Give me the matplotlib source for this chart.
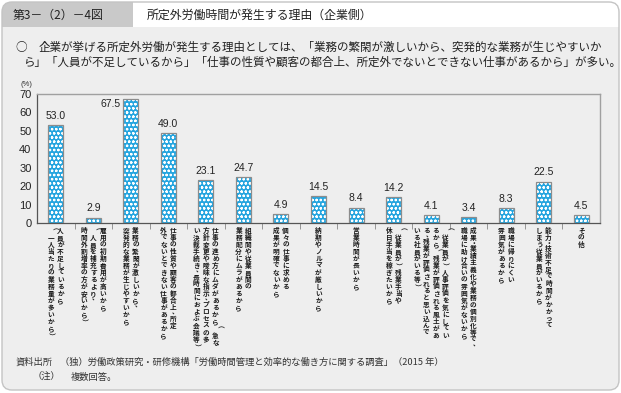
import numpy as np
import matplotlib.pyplot as plt
from matplotlib.patches import FancyBboxPatch, Rectangle
from matplotlib.transforms import Affine2D, blended_transform_factory

plt.rcParams['font.family'] = ['Noto Sans CJK JP', 'DejaVu Sans']
plt.rcParams['hatch.linewidth'] = 0.6

W, H = 621, 393

values = [53.0, 2.9, 67.5, 49.0, 23.1, 24.7, 4.9, 14.5, 8.4, 14.2, 4.1, 3.4, 8.3, 22.5, 4.5]
# each label is a list of vertical columns, right to left
labels = [
    ['人員が不足しているから', '（一人当たりの業務量が多いから）'],
    ['雇用の初期費用が高いから', '（人員を補充するより、', '時間外割増率の方が安いから）'],
    ['業務の繁閑が激しいから、', '突発的な業務が生じやすいから'],
    ['仕事の性質や顧客の都合上、所定', '外でないとできない仕事があるから'],
    ['仕事の進め方にムダがあるから（急な', '方針変更や曖昧な指示、プロセスの多', 'い決裁手続き、長時間におよぶ会議等）'],
    ['組織間や従業員間の', '業務配分にムラがあるから'],
    ['個々の仕事に求める', '成果が明確でないから'],
    ['納期やノルマが厳しいから'],
    ['営業時間が長いから'],
    ['（従業員が）残業手当や', '休日手当を稼ぎたいから'],
    ['（従業員が）人事評価を気にしてい', 'るから（残業が評価される風土があ', 'る、残業が評価されると思い込んで', 'いる社員がいる等）'],
    ['成果・業績主義化や業務の個別化等で、', '職場に助け合いの雰囲気がないから'],
    ['職場に帰りにくい', '雰囲気があるから'],
    ['能力・技術不足で時間がかかって', 'しまう従業員がいるから'],
    ['その他'],
]
yticks = [0, 10, 20, 30, 40, 50, 60, 70]

header_no = '第3－（2）－4図'
header_title = '所定外労働時間が発生する理由（企業側）'
lead1 = '企業が挙げる所定外労働が発生する理由としては、「業務の繁閑が激しいから、突発的な業務が生じやすいか'
lead2 = 'ら」「人員が不足しているから」「仕事の性質や顧客の都合上、所定外でないとできない仕事があるから」が多い。'
src = '（独）労働政策研究・研修機構「労働時間管理と効率的な働き方に関する調査」（2015 年）'
note = '複数回答。'

blue = '#25a5df'
panel_bg = '#eeeeee'

fig = plt.figure(figsize=(W / 100, H / 100), dpi=100)
fig.patch.set_facecolor('white')
px = Affine2D().scale(1 / W, -1 / H).translate(0, 1) + fig.transFigure

# panel and header
panel = FancyBboxPatch((2, 2), 617, 388, boxstyle='round,pad=0,rounding_size=10',
                       facecolor=panel_bg, edgecolor='none', transform=px, zorder=0)
fig.add_artist(panel)
tab = Rectangle((0, 0), 133, 27, facecolor='#c9c9c9', edgecolor='none', transform=px, zorder=1)
white = Rectangle((133, 0), 490, 27, facecolor='white', edgecolor='none', transform=px, zorder=1)
for r in (tab, white):
    fig.add_artist(r)
    r.set_clip_path(panel)
border = FancyBboxPatch((2, 2), 617, 388, boxstyle='round,pad=0,rounding_size=10',
                        facecolor='none', edgecolor='#c4c4c4', linewidth=1.0, transform=px, zorder=2)
fig.add_artist(border)

fig.text(13, 15, header_no, transform=px, fontsize=8.6, va='center', ha='left', color='#222222')
fig.text(147, 15, header_title, transform=px, fontsize=8.6, va='center', ha='left', color='#222222')

fig.text(15, 47, '○', transform=px, fontsize=8.4, va='center', ha='left', color='#222222')
fig.text(39, 47, lead1, transform=px, fontsize=8.3, va='center', ha='left', color='#222222')
fig.text(24, 62, lead2, transform=px, fontsize=8.3, va='center', ha='left', color='#222222')

fig.text(16, 362, '資料出所', transform=px, fontsize=6.7, va='center', ha='left', color='#333333')
fig.text(60, 362, src, transform=px, fontsize=6.7, va='center', ha='left', color='#333333')
fig.text(33, 377, '（注）', transform=px, fontsize=6.7, va='center', ha='left', color='#333333')
fig.text(71, 377, note, transform=px, fontsize=6.7, va='center', ha='left', color='#333333')

fig.text(26, 84, '(%)', transform=px, fontsize=5.5, va='center', ha='center', color='#333333',
         family='Liberation Sans')

# plot area
x0, x1, ytop, ybot = 37, 600, 94, 223
ax = fig.add_axes([x0 / W, 1 - ybot / H, (x1 - x0) / W, (ybot - ytop) / H])
ax.set_facecolor('none')
x = np.arange(len(values))
ax.bar(x, values, width=0.4, color=blue, edgecolor='white', hatch='oooo', linewidth=0, zorder=2)
ax.bar(x, values, width=0.4, fill=False, edgecolor='#8c8c8c', linewidth=0.9, zorder=3)
ax.set_xlim(-0.5, len(values) - 0.5)
ax.set_ylim(0, 70)
ax.set_yticks(yticks)
ax.set_yticklabels([str(t) for t in yticks], family='Liberation Sans', fontsize=8, color='#222222')
ax.tick_params(axis='y', length=0, pad=4)
ax.set_xticks(np.arange(0.5, len(values) - 1, 1))
ax.set_xticklabels([])
ax.tick_params(axis='x', direction='out', length=4, width=0.6, color='#888888')
for s in ('left', 'bottom'):
    ax.spines[s].set_color('#555555')
    ax.spines[s].set_linewidth(0.9)
for s in ('top', 'right'):
    ax.spines[s].set_color('#a0a0a0')
    ax.spines[s].set_linewidth(1.0)

for i, v in enumerate(values):
    if i == 2:
        ax.text(i - 0.26, v - 3, f'{v:.1f}', ha='right', va='center', fontsize=7.5,
                family='Liberation Sans', color='#222222')
    else:
        ax.annotate(f'{v:.1f}', (i, v), xytext=(0, 3), textcoords='offset points',
                    ha='center', va='bottom', fontsize=7.5, family='Liberation Sans', color='#222222')

# vertical category labels, drawn character by character
slot = (x1 - x0) / len(values)
colsp = 9.5 / slot
pitch = 7.0
half = set('、・')
rot = set('（）ー「」')
tr = blended_transform_factory(ax.transData, px)
for i, cols in enumerate(labels):
    n = len(cols)
    for j, col in enumerate(cols):
        cx = i + (n - 1) / 2 * colsp - j * colsp
        y = 227
        for ch in col:
            step = pitch * 0.6 if ch in half else pitch
            cy = y + step / 2
            dx, dy, r = 0, 0, 0
            if ch in rot:
                r = -90
            if ch == '、':
                dx, dy = 2.2 / slot, -1.5
            ax.text(cx + dx, cy + dy, ch, transform=tr, fontsize=4.8, fontweight='bold',
                    ha='center', va='center', rotation=r, color='#1a1a1a', clip_on=False)
            y += step

fig.savefig('out.png', dpi=100)
